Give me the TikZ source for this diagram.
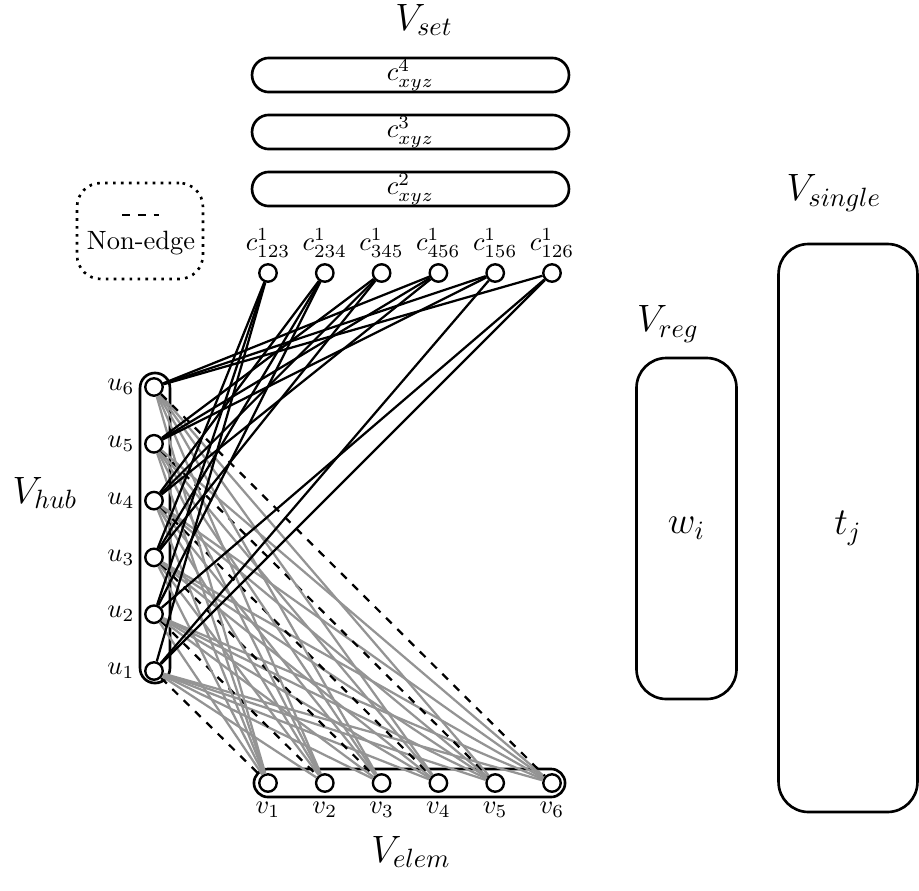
\documentclass[tikz,border=0pt]{standalone}
\begin{document}
\begin{tikzpicture}[x=0.378pt,y=-0.378pt,
  vtx/.style={circle,draw,line width=0.9pt,minimum size=6.6pt,inner sep=0pt,fill=white},
  grp/.style={draw,line width=1pt,inner sep=0pt},
  edgeb/.style={line width=0.85pt,black},
  edgeg/.style={line width=0.85pt,black!42},
  nonedge/.style={line width=0.85pt,dashed},
  vlbl/.style={inner sep=0pt},
  biglbl/.style={font=\Large,inner sep=0pt}]
\useasboundingbox (0,0) rectangle (919,890);

% group boxes
\node[grp,rounded corners=5.6pt,minimum width=11.3pt,minimum height=117.2pt] (hub) at (155,528) {};
\node[grp,rounded corners=5.3pt,minimum width=117.6pt,minimum height=10.6pt] (elem) at (409.5,783) {};
\foreach \k/\yy in {4/75,3/132,2/189}{
  \node[grp,rounded corners=6.4pt,minimum width=119.8pt,minimum height=12.9pt] (set\k) at (410.5,\yy) {$c^{\k}_{xyz}$};
}
\node[grp,rounded corners=11.3pt,minimum width=37.8pt,minimum height=128.9pt,font=\Large] (reg) at (686.5,528.5) {$w_i$};
\node[grp,rounded corners=11.3pt,minimum width=52.5pt,minimum height=214.7pt,font=\Large] (single) at (848,528) {$t_j$};

% legend
\node[draw,dotted,line width=1pt,rounded corners=9pt,minimum width=47.6pt,minimum height=36.3pt] (leg) at (140,231) {};
\node[inner sep=0pt] (legtxt) at (141,243) {Non-edge};
\coordinate (legA) at (122,215);
\coordinate (legB) at (159,215);
\draw[nonedge] (legA) -- (legB);

% group labels
\node[biglbl] (Vset) at (424,20) {$V_{set}$};
\node[biglbl] (Vsingle) at (834,193) {$V_{single}$};
\node[biglbl] (Vreg) at (668,324) {$V_{reg}$};
\node[biglbl] (Vhub) at (45,493) {$V_{hub}$};
\node[biglbl] (Velem) at (411,852) {$V_{elem}$};

% vertices
\foreach \i in {1,...,6}{
  \pgfmathsetmacro{\uy}{671-56.8*(\i-1)}
  \node[vtx] (u\i) at (154,\uy) {};
  \node[vlbl] (lu\i) at (121,\uy) {$u_{\i}$};
  \pgfmathsetmacro{\vx}{268+56.8*(\i-1)}
  \node[vtx] (v\i) at (\vx,783) {};
  \node[vlbl,anchor=north] (lv\i) at (\vx,802) {$v_{\i}$};
}
\foreach \n/\lab [count=\k from 0] in {a/123,b/234,c/345,d/456,e/156,f/126}{
  \pgfmathsetmacro{\cx}{268+56.8*\k}
  \node[vtx] (c\n) at (\cx,273) {};
  \node[vlbl] (lc\n) at (\cx,243) {$c^1_{\lab}$};
}

% gray edges and non-edges
\foreach \i in {1,...,6}{
  \foreach \j in {1,...,6}{
    \ifnum\i=\j
      \draw[nonedge] (u\i) -- (v\j);
    \else
      \draw[edgeg] (u\i) -- (v\j);
    \fi
  }
}

% black edges
\foreach \n/\p/\q/\r in {a/1/2/3,b/2/3/4,c/3/4/5,d/4/5/6,e/1/5/6,f/1/2/6}{
  \draw[edgeb] (c\n) -- (u\p);
  \draw[edgeb] (c\n) -- (u\q);
  \draw[edgeb] (c\n) -- (u\r);
}
\end{tikzpicture}
\end{document}
